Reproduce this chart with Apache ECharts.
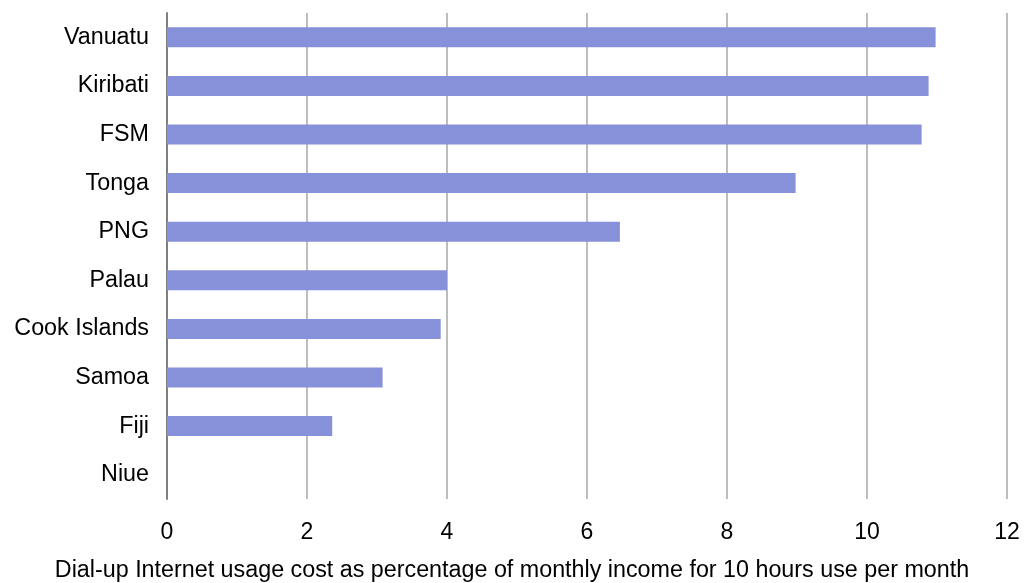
<!DOCTYPE html>
<html><head><meta charset="utf-8">
<script src="https://cdn.jsdelivr.net/npm/echarts@6/dist/echarts.min.js"></script>
<style>html,body{margin:0;padding:0;background:#fff}#c{width:1024px;height:583px}</style>
</head><body><div id="c"></div>
<script>
const categories = ["Vanuatu","Kiribati","FSM","Tonga","PNG","Palau","Cook Islands","Samoa","Fiji","Niue"];
const values = [10.98, 10.88, 10.78, 8.98, 6.47, 4.0, 3.91, 3.08, 2.36, 0];
const xTicks = [0,2,4,6,8,10,12];
const axisTitle = "Dial-up Internet usage cost as percentage of monthly income for 10 hours use per month";
const chart = echarts.init(document.getElementById('c'), null, {renderer:'canvas'});
const font = "'Liberation Sans', Arial, sans-serif";
chart.setOption({
  animation:false,
  title:{text:axisTitle,left:'center',top:559,padding:0,
    textStyle:{color:'#000',fontSize:23.3,fontWeight:'normal',fontFamily:font}},
  grid:{left:167,right:17,top:13,bottom:84,containLabel:false,outerBoundsMode:'none'},
  xAxis:{type:'value',min:0,max:12,interval:2,
    axisLine:{show:false},axisTick:{show:false},
    axisLabel:{color:'#000',fontSize:23,fontFamily:font,margin:22,formatter:v=>xTicks.includes(v)?String(v):''},
    splitLine:{show:true,lineStyle:{color:'#bdbdbd',width:2}}},
  yAxis:{type:'category',data:categories,inverse:true,
    axisLine:{show:true,lineStyle:{color:'#7f7f7f',width:2}},
    axisTick:{show:false},
    axisLabel:{color:'#000',fontSize:23.3,fontFamily:font,margin:18}},
  series:[{type:'bar',data:values,barWidth:20,itemStyle:{color:'#8791d9'}}]
});
</script></body></html>
